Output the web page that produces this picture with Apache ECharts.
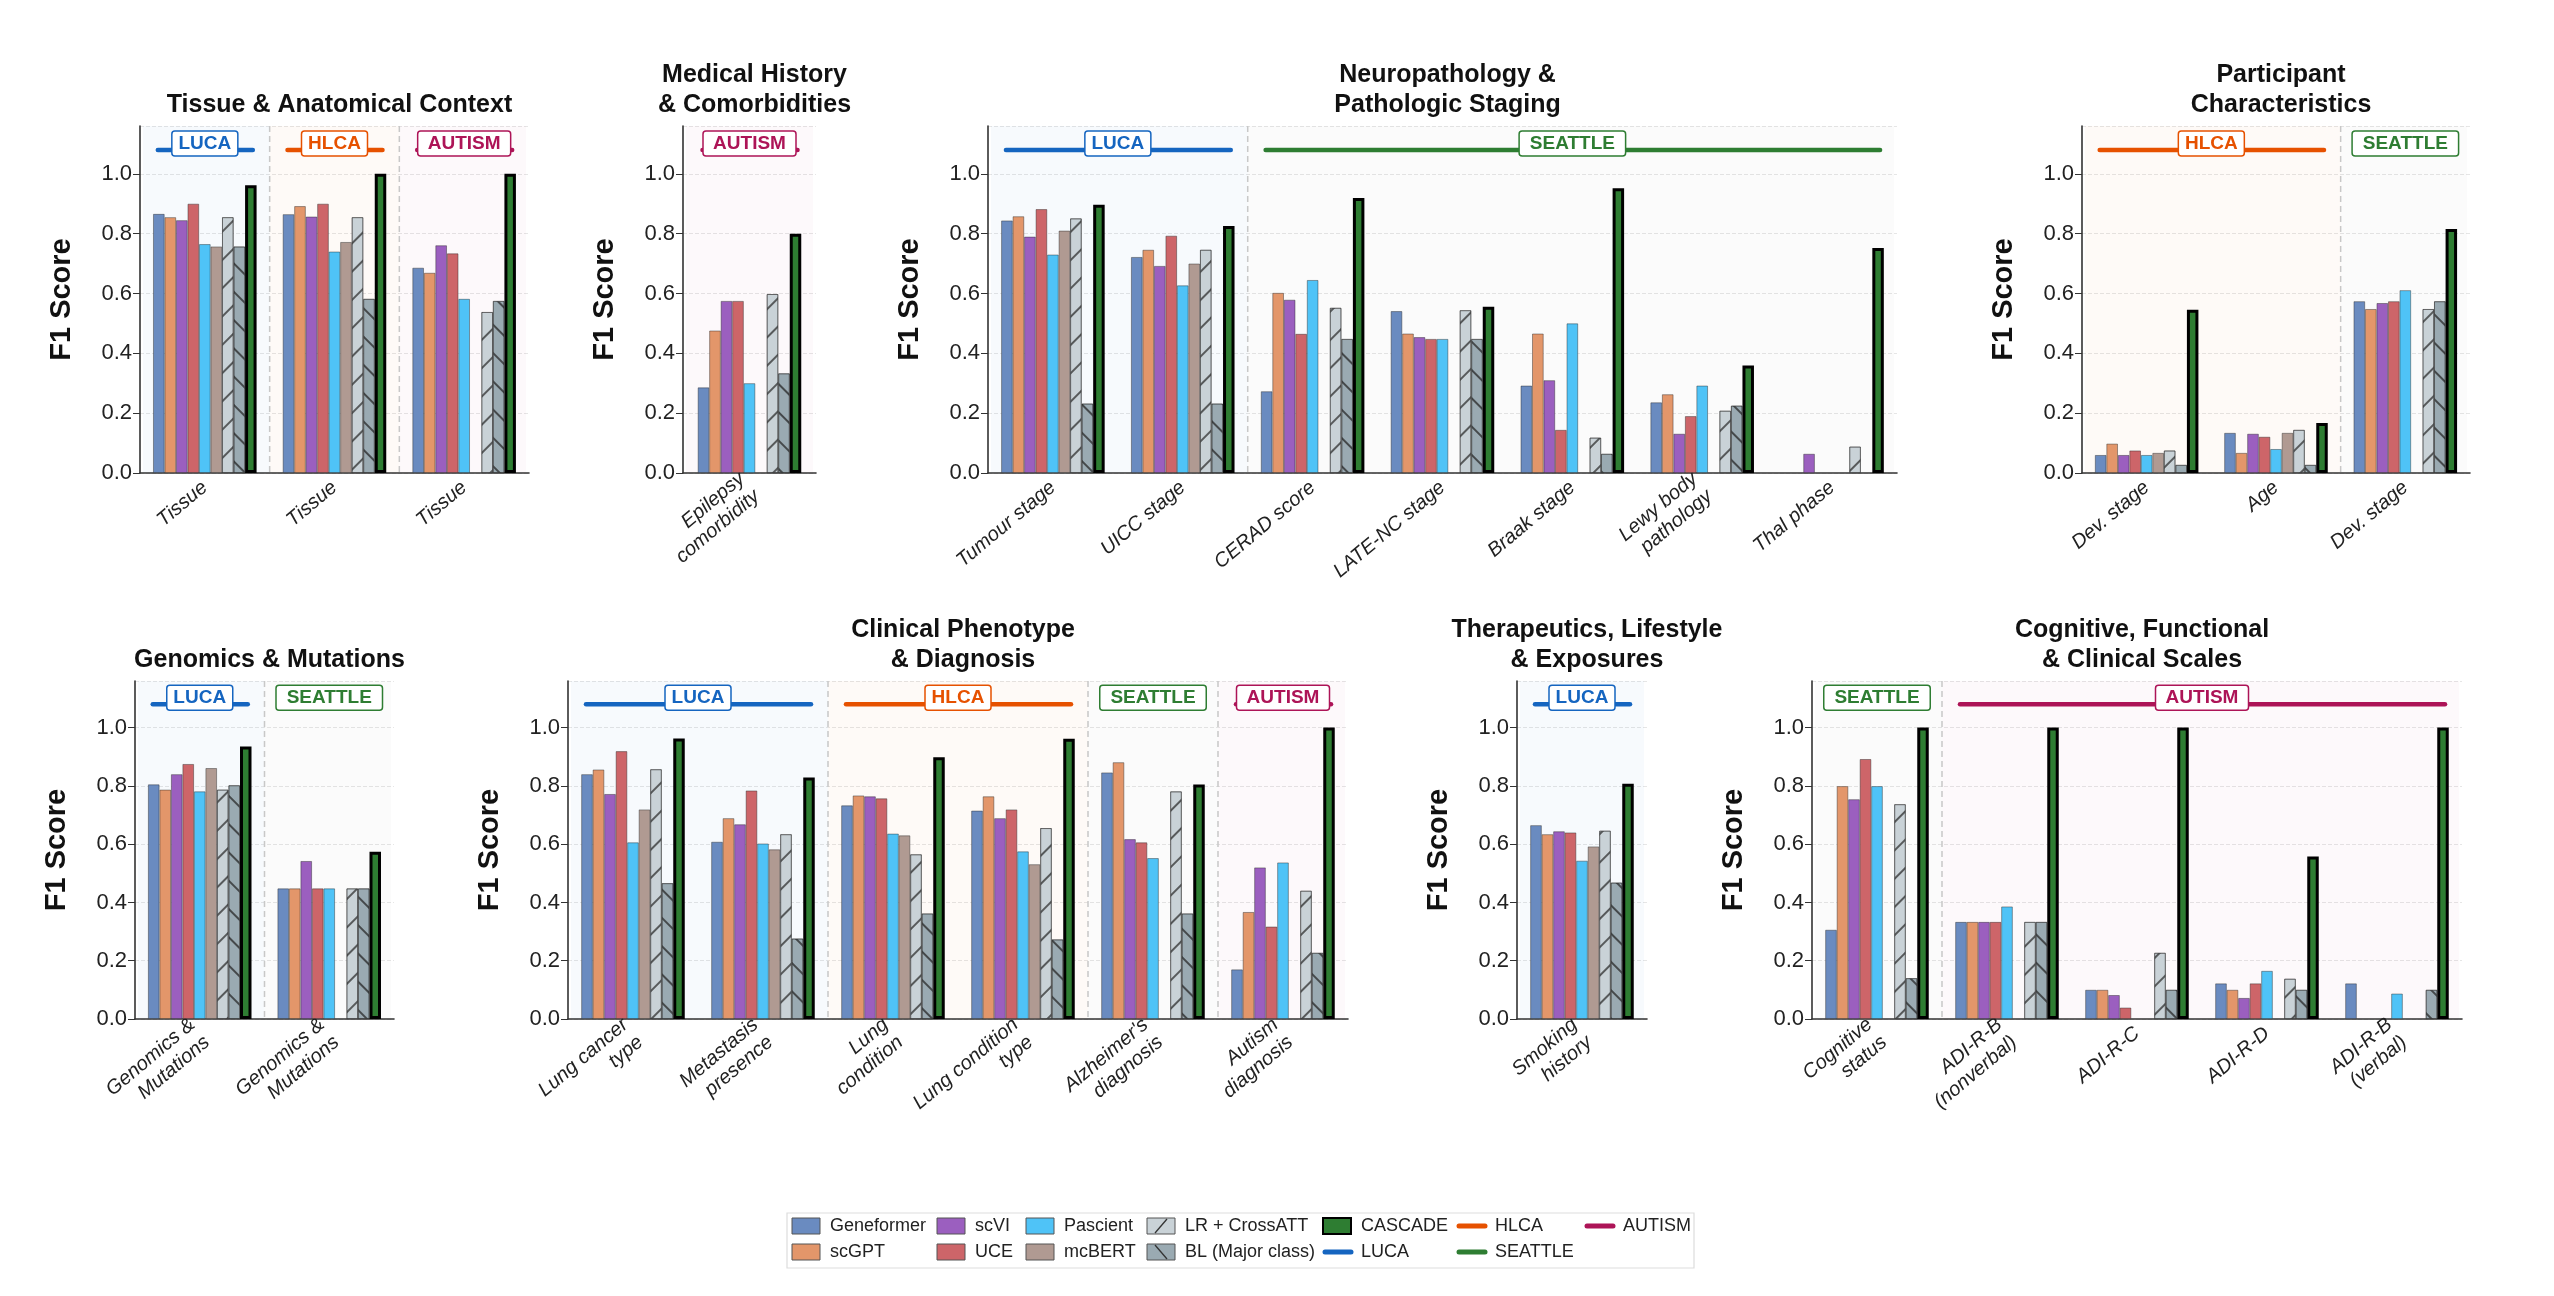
<!DOCTYPE html>
<html><head><meta charset="utf-8">
<script src="https://cdn.jsdelivr.net/npm/echarts@6/dist/echarts.min.js"></script>
<style>html,body{margin:0;padding:0;background:#fff}#c{width:2554px;height:1296px}</style>
</head><body><div id="c"></div>
<script>
// ---------- DATA ----------
const models = ['Geneformer','scGPT','scVI','UCE','Pascient','mcBERT','LR + CrossATT','BL (Major class)','CASCADE'];
const modelColors = ['#6A8BC0','#E3966A','#9B5FBF','#CD6569','#4FC3F7','#B09A92','#C9D2D7','#9AAAB2','#2E7D32'];
const datasetColors = {LUCA:'#1565C0', HLCA:'#E65100', SEATTLE:'#2E7D32', AUTISM:'#AD1457'};

const panelTitles = ['Tissue & Anatomical Context','Medical History\n& Comorbidities','Neuropathology &\nPathologic Staging','Participant\nCharacteristics',
  'Genomics & Mutations','Clinical Phenotype\n& Diagnosis','Therapeutics, Lifestyle\n& Exposures','Cognitive, Functional\n& Clinical Scales'];

const tissueCats = ['Tissue','Tissue','Tissue'];
const tissueScores = [
 [0.866,0.855,0.845,0.900,0.765,0.757,0.855,0.757,0.962],
 [0.865,0.892,0.857,0.900,0.740,0.772,0.855,0.582,1.000],
 [0.686,0.669,0.761,0.734,0.582,null,0.538,0.575,1.000]];
const medicalCats = ['Epilepsy\ncomorbidity'];
const medicalScores = [[0.286,0.476,0.575,0.575,0.300,null,0.598,0.333,0.800]];
const neuroCats = ['Tumour stage','UICC stage','CERAD score','LATE-NC stage','Braak stage','Lewy body\npathology','Thal phase'];
const neuroScores = [
 [0.844,0.858,0.790,0.882,0.730,0.810,0.851,0.232,0.897],
 [0.722,0.746,0.692,0.793,0.627,0.700,0.746,0.232,0.826],
 [0.273,0.602,0.579,0.465,0.645,null,0.552,0.448,0.919],
 [0.541,0.466,0.454,0.448,0.448,null,0.544,0.448,0.556],
 [0.292,0.466,0.310,0.144,0.500,null,0.118,0.064,0.952],
 [0.236,0.263,0.131,0.190,0.292,null,0.208,0.225,0.359],
 [null,null,0.064,null,null,null,0.088,null,0.752]];
const participantCats = ['Dev. stage','Age','Dev. stage'];
const participantScores = [
 [0.060,0.098,0.060,0.075,0.060,0.067,0.075,0.027,0.546],
 [0.134,0.067,0.131,0.121,0.080,0.134,0.144,0.027,0.167],
 [0.574,0.548,0.568,0.574,0.611,null,0.548,0.574,0.816]];
const genomicsCats = ['Genomics &\nMutations','Genomics &\nMutations'];
const genomicsScores = [
 [0.805,0.787,0.840,0.875,0.781,0.861,0.787,0.802,0.935],
 [0.448,0.448,0.542,0.448,0.448,null,0.448,0.448,0.574]];
const clinicalCats = ['Lung cancer\ntype','Metastasis\npresence','Lung\ncondition','Lung condition\ntype',"Alzheimer's\ndiagnosis",'Autism\ndiagnosis'];
const clinicalScores = [
 [0.840,0.856,0.772,0.919,0.606,0.719,0.857,0.466,0.963],
 [0.608,0.689,0.668,0.784,0.602,0.582,0.634,0.276,0.829],
 [0.733,0.767,0.764,0.757,0.636,0.630,0.565,0.362,0.898],
 [0.715,0.764,0.689,0.719,0.575,0.531,0.655,0.273,0.962],
 [0.846,0.881,0.617,0.606,0.552,null,0.781,0.362,0.805],
 [0.170,0.367,0.520,0.317,0.537,null,0.440,0.227,1.000]];
const therapeuticsCats = ['Smoking\nhistory'];
const therapeuticsScores = [[0.665,0.634,0.644,0.640,0.543,0.592,0.646,0.468,0.807]];
const cognitiveCats = ['Cognitive\nstatus','ADI-R-B\n(nonverbal)','ADI-R-C','ADI-R-D','ADI-R-B\n(verbal)'];
const cognitiveScores = [
 [0.306,0.799,0.754,0.892,0.799,null,0.737,0.140,1.000],
 [0.333,0.333,0.333,0.333,0.386,null,0.333,0.333,1.000],
 [0.100,0.100,0.082,0.039,null,null,0.227,0.100,1.000],
 [0.122,0.100,0.072,0.122,0.165,null,0.138,0.100,0.558],
 [0.122,null,null,null,0.087,null,null,0.100,1.000]];

// dataset sections per panel: [name, firstCategory, lastCategory]
const panelSections = [
 [['LUCA',0,0],['HLCA',1,1],['AUTISM',2,2]],
 [['AUTISM',0,0]],
 [['LUCA',0,1],['SEATTLE',2,6]],
 [['HLCA',0,1],['SEATTLE',2,2]],
 [['LUCA',0,0],['SEATTLE',1,1]],
 [['LUCA',0,1],['HLCA',2,3],['SEATTLE',4,4],['AUTISM',5,5]],
 [['LUCA',0,0]],
 [['SEATTLE',0,0],['AUTISM',1,4]]];

const panelCats = [tissueCats,medicalCats,neuroCats,participantCats,genomicsCats,clinicalCats,therapeuticsCats,cognitiveCats];
const panelScores = [tissueScores,medicalScores,neuroScores,participantScores,genomicsScores,clinicalScores,therapeuticsScores,cognitiveScores];
const yTicks = [0,0.2,0.4,0.6,0.8,1.0];

// ---------- LAYOUT ----------
const grids = [
 {left:140,top:126,width:389,height:347},
 {left:683,top:126,width:133,height:347},
 {left:988,top:126,width:909,height:347},
 {left:2082,top:126,width:388,height:347},
 {left:135,top:681,width:259,height:338},
 {left:568,top:681,width:780,height:338},
 {left:1517,top:681,width:130,height:338},
 {left:1812,top:681,width:650,height:338}];
const YMAX = 1.16;
const FONT = '"Liberation Sans", Arial, sans-serif';

const chart = echarts.init(document.getElementById('c'), null, {renderer:'canvas'});
const hatchLR = {symbol:'rect',symbolSize:1,dashArrayX:[1,0],dashArrayY:[2,18],rotation:-Math.PI/4,color:'rgba(50,50,50,0.75)'};
const hatchBL = {symbol:'rect',symbolSize:1,dashArrayX:[1,0],dashArrayY:[2,18],rotation:Math.PI/4,color:'rgba(40,40,40,0.75)'};

const series = [], xAxis = [], yAxis = [], title = [];
grids.forEach((g,p)=>{
  const lines = panelTitles[p].split('\n').length;
  const row2 = p>=4;
  const titleCenterY = row2 ? 655 : 100;
  title.push({text:panelTitles[p], left:g.left+g.width/2, top: titleCenterY - 15 - (lines-1)*30, textAlign:'center',
    textStyle:{fontFamily:FONT,fontWeight:'bold',fontSize:25,color:'#111',lineHeight:30}});
  xAxis.push({type:'category',gridIndex:p,data:panelCats[p],
    axisLine:{lineStyle:{color:'#333',width:1.6}},axisTick:{alignWithLabel:true,length:7,lineStyle:{color:'#333',width:1.5}},
    axisLabel:{rotate:40,fontSize:20,fontStyle:'italic',color:'#222',fontFamily:FONT,interval:0,lineHeight:23,margin:12}});
  yAxis.push({type:'value',gridIndex:p,min:0,max:YMAX,interval:0.2,
    name:'F1 Score',nameLocation:'middle',nameGap:64,nameRotate:90,
    nameTextStyle:{fontFamily:FONT,fontWeight:'bold',fontSize:29,color:'#111'},
    axisLine:{show:true,lineStyle:{color:'#333',width:1.6}},axisTick:{show:true,length:7,lineStyle:{color:'#333'}},
    axisLabel:{fontSize:22,color:'#222',fontFamily:FONT,showMaxLabel:false,formatter:v=>yTicks.includes(Math.round(v*10)/10)?v.toFixed(1):''},
    splitLine:{show:true,lineStyle:{color:'#e6e6e6',type:'dashed'}}});
  models.forEach((m,mi)=>{
    const isC = mi===8;
    series.push({type:'bar',name:m,xAxisIndex:p,yAxisIndex:p,barWidth:11.5,barGap:'0%',z:3,
      data:panelScores[p].map(r=>r[mi]),
      itemStyle:{color:modelColors[mi],borderColor:isC?'#000':'rgba(40,40,40,0.55)',borderWidth:isC?3:0.8,
        decal: mi===6?hatchLR:(mi===7?hatchBL:null)},
      emphasis:{disabled:true},animation:false});
  });
});

chart.setOption({animation:false,backgroundColor:'#fff',textStyle:{fontFamily:FONT},
  grid:grids.map(g=>Object.assign({containLabel:false},g)),xAxis,yAxis,title,series});

// ---------- annotations (sections, badges) and legend ----------
const graphic = [];
const shade = {LUCA:'rgba(21,101,192,0.035)',HLCA:'rgba(230,81,0,0.03)',SEATTLE:'rgba(120,130,140,0.03)',AUTISM:'rgba(173,20,87,0.025)'};
grids.forEach((g,p)=>{
  const n = panelCats[p].length, cw = g.width/n;
  const px = (i,v)=>chart.convertToPixel({xAxisIndex:p,yAxisIndex:p},[i,v]);
  const y0 = px(0,0)[1], yTop = g.top, yLine = px(0,1.08)[1];
  panelSections[p].forEach((s,k)=>{
    const c0 = px(s[1],0)[0], c1 = px(s[2],0)[0];
    const xa = c0-cw/2 + (k===0?3:0), xb = c1+cw/2 - (k===panelSections[p].length-1?3:0);
    graphic.push({type:'rect',z:0,silent:true,shape:{x:xa,y:yTop,width:xb-xa,height:y0-yTop},style:{fill:shade[s[0]]}});
    if(k>0) graphic.push({type:'line',z:1,silent:true,shape:{x1:c0-cw/2,y1:yTop,x2:c0-cw/2,y2:y0},style:{stroke:'#c8c8c8',lineWidth:1.5,lineDash:[6,4]}});
    const col = datasetColors[s[0]];
    graphic.push({type:'line',z:5,silent:true,shape:{x1:c0-47,y1:yLine,x2:c1+48,y2:yLine},style:{stroke:col,lineWidth:4.5,lineCap:'round'}});
    const bw = s[0].length*13.5+12, cx=(c0+c1)/2;
    graphic.push({type:'rect',z:6,silent:true,shape:{x:cx-bw/2,y:yLine-19,width:bw,height:25,r:3},style:{fill:'#fff',stroke:col,lineWidth:1.5}});
    graphic.push({type:'text',z:7,silent:true,x:cx,y:yLine-6.5,style:{text:s[0],fill:col,font:'bold 19px '+FONT,align:'center',verticalAlign:'middle'}});
  });
});
// legend
graphic.push({type:'rect',z:1,silent:true,shape:{x:787,y:1213,width:907,height:55},style:{fill:'#fff',stroke:'#ddd',lineWidth:1.2}});
const legendCols = [792,937,1026,1147,1323,1457,1585];
const legendItems = [...models.map((m,i)=>({name:m,kind:'bar',i})),
  {name:'LUCA',kind:'line'},{name:'HLCA',kind:'line'},{name:'SEATTLE',kind:'line'},{name:'AUTISM',kind:'line'}];
legendItems.forEach((it,k)=>{
  const x = legendCols[Math.floor(k/2)], y = k%2===0?1226:1252;
  if(it.kind==='bar'){
    graphic.push({type:'rect',z:2,silent:true,shape:{x:x,y:y-8,width:28,height:16},style:{fill:modelColors[it.i],stroke:it.i===8?'#000':'#555',lineWidth:it.i===8?2:1}});
    if(it.i===6) graphic.push({type:'line',z:3,silent:true,shape:{x1:x+8,y1:y+7,x2:x+20,y2:y-7},style:{stroke:'#333',lineWidth:1.3}});
    if(it.i===7) graphic.push({type:'line',z:3,silent:true,shape:{x1:x+8,y1:y-7,x2:x+20,y2:y+7},style:{stroke:'#333',lineWidth:1.3}});
  } else {
    graphic.push({type:'line',z:2,silent:true,shape:{x1:x+2,y1:y,x2:x+28,y2:y},style:{stroke:datasetColors[it.name],lineWidth:5,lineCap:'round'}});
  }
  graphic.push({type:'text',z:2,silent:true,x:x+38,y:y,style:{text:it.name,fill:'#222',font:'18px '+FONT,verticalAlign:'middle'}});
});
chart.setOption({graphic});
</script></body></html>
